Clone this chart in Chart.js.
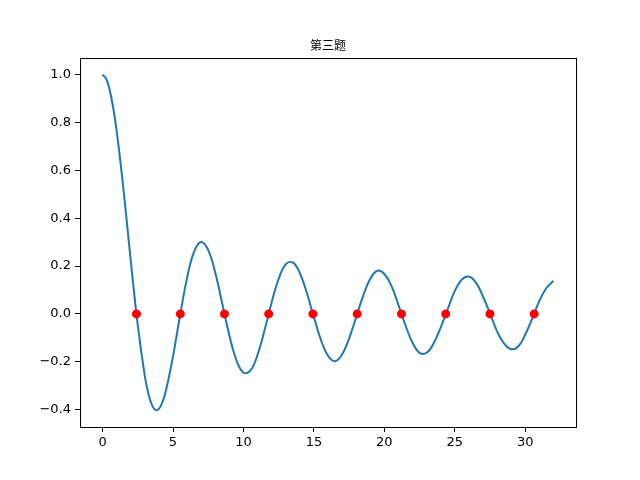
<!DOCTYPE html>
<html>
<head>
<meta charset="utf-8">
<script src="https://cdn.jsdelivr.net/npm/chart.js@4/dist/chart.umd.min.js"></script>
<style>
html,body{margin:0;padding:0;background:#fff;}
#wrap{width:640px;height:480px;}
</style>
</head>
<body>
<div id="wrap"><canvas id="c" width="640" height="480"></canvas></div>
<script>
const chartTitle = "第三题";
// curve samples
const curveX = [0,0.25,0.5,0.75,1,1.25,1.5,1.75,2,2.5,3,3.25,3.5,3.75,4,4.25,4.5,5,5.5,6,6.5,7,7.5,8,8.5,9,9.5,10,10.5,11,11.5,12,12.5,13,13.5,14,14.5,15,15.5,16,16.5,17,17.5,18,18.5,19,19.5,20,20.5,21,21.5,22,22.5,23,23.5,24,24.5,25,25.5,26,26.5,27,27.5,28,28.5,29,29.5,30,30.5,31,31.5,32];
const curveY = [1.0,0.9844,0.9385,0.8642,0.7652,0.6459,0.5118,0.3690,0.2239,-0.0484,-0.2601,-0.3328,-0.3801,-0.4015,-0.3971,-0.3693,-0.3205,-0.1776,-0.0068,0.1506,0.2601,0.3001,0.2663,0.1717,0.0419,-0.0903,-0.1939,-0.2459,-0.2366,-0.1712,-0.0677,0.0477,0.1469,0.2069,0.2150,0.1711,0.0875,-0.0142,-0.1092,-0.1749,-0.1979,-0.1699,-0.1022,-0.0134,0.0761,0.1466,0.1805,0.1670,0.1174,0.0370,-0.0484,-0.1207,-0.1630,-0.1624,-0.1228,-0.0562,0.0204,0.0963,0.1439,0.1560,0.1306,0.0727,0.0014,-0.0732,-0.1247,-0.1478,-0.1366,-0.0864,-0.0187,0.0543,0.1082,0.1380];
// marked zero crossings
const zeroX = [2.405,5.520,8.654,11.792,14.931,18.071,21.212,24.352,27.493,30.635];
const zeroY = [0,0,0,0,0,0,0,0,0,0];
const xTicks = [0,5,10,15,20,25,30];
const yTicks = [-0.4,-0.2,0.0,0.2,0.4,0.6,0.8,1.0];

const curve = curveX.map((x,i)=>({x:x,y:curveY[i]}));
const zeros = zeroX.map((x,i)=>({x:x,y:zeroY[i]}));

const frame = {
  id:'frame',
  afterDatasetsDraw(chart){
    const a = chart.chartArea, ctx = chart.ctx;
    ctx.save();
    ctx.strokeStyle = '#000';
    ctx.lineWidth = 1;
    ctx.strokeRect(Math.round(a.left)+0.5, Math.round(a.top)+0.5, Math.round(a.right-a.left), Math.round(a.bottom-a.top));
    ctx.fillStyle = '#000';
    ctx.font = '12px "Noto Sans CJK SC", sans-serif';
    ctx.textAlign = 'center';
    ctx.textBaseline = 'alphabetic';
    ctx.fillText(chartTitle, (a.left+a.right)/2, a.top - 8);
    ctx.restore();
  }
};

new Chart(document.getElementById('c'), {
  type:'scatter',
  data:{datasets:[
    {data:zeros, showLine:false, pointRadius:4.5, pointBackgroundColor:'#ff0000', pointBorderColor:'#ff0000', pointBorderWidth:0, order:0},
    {data:curve, showLine:true, borderColor:'#1f77b4', borderWidth:2, pointRadius:0, tension:0.4, fill:false, order:1}
  ]},
  options:{
    responsive:false, animation:false,
    layout:{padding:{top:58,right:64,left:0,bottom:0}},
    plugins:{legend:{display:false}, tooltip:{enabled:false}, title:{display:false}},
    scales:{
      x:{type:'linear', min:-1.6, max:33.6,
        afterBuildTicks(s){ s.ticks = xTicks.map(v=>({value:v})); },
        afterFit(s){ s.height = 53; },
        grid:{drawOnChartArea:false, drawTicks:true, tickLength:5, color:'#000'},
        border:{display:false},
        ticks:{color:'#000', font:{family:'"DejaVu Sans"', size:13}, padding:3, maxRotation:0, callback:(v)=>String(v)}
      },
      y:{type:'linear', min:-0.473, max:1.070,
        afterBuildTicks(s){ s.ticks = yTicks.map(v=>({value:v})); },
        afterFit(s){ s.width = 80; },
        grid:{drawOnChartArea:false, drawTicks:true, tickLength:5, color:'#000'},
        border:{display:false},
        ticks:{color:'#000', font:{family:'"DejaVu Sans"', size:13}, padding:4, callback:(v)=>{const r=Math.round(v*10)/10; return (r<0?'\u2212':'')+Math.abs(r).toFixed(1);}}
      }
    }
  },
  plugins:[frame]
});
</script>
</body>
</html>
